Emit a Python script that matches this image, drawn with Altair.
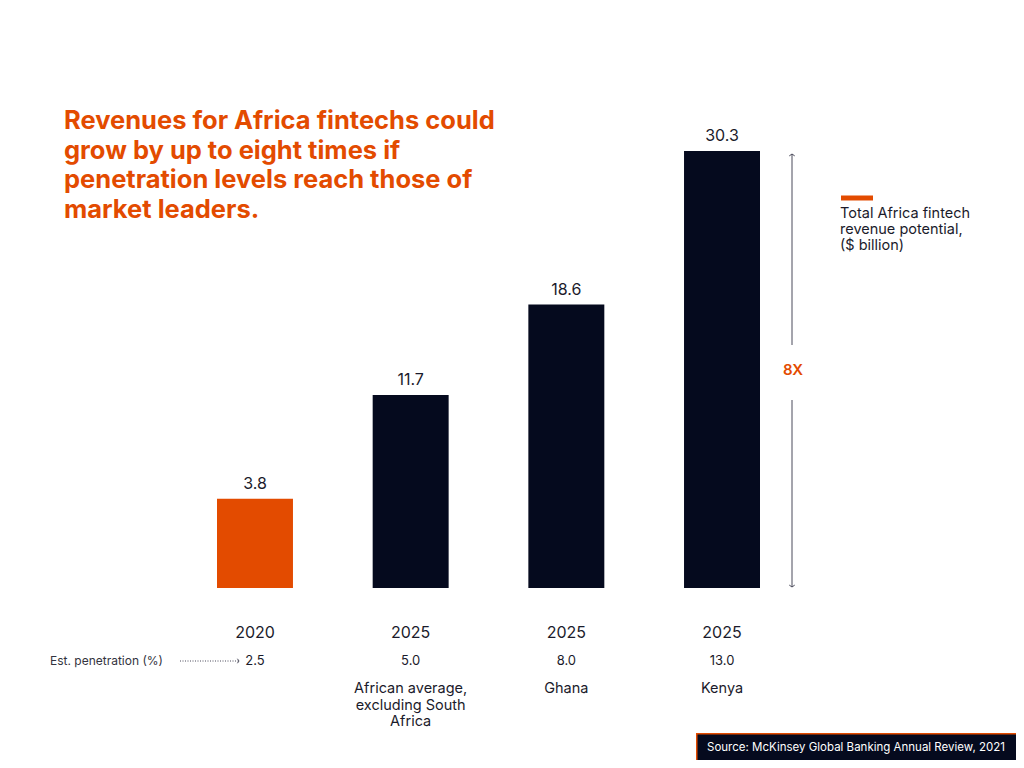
import altair as alt
import pandas as pd

# ---- data ----
years = ["2020", "2025", "2025", "2025"]
revenue = [3.8, 11.7, 18.6, 30.3]
penetration = [2.5, 5.0, 8.0, 13.0]
markets = ["", "African average,\nexcluding South\nAfrica", "Ghana", "Kenya"]

title_lines = [
    "Revenues for Africa fintechs could",
    "grow by up to eight times if",
    "penetration levels reach those of",
    "market leaders.",
]
legend_lines = ["Total Africa fintech", "revenue potential,", "($ billion)"]
multiple_label = "8X"
penetration_label = "Est. penetration (%)"
source_text = "Source: McKinsey Global Banking Annual Review, 2021"

ORANGE = "#E34B00"
NAVY = "#050A1E"
INK = "#1B1B2B"
GREY = "#4A4A5A"
FONT = "Inter"
Y_MIN = -3

df = pd.DataFrame({
    "slot": [f"{y}|{m}" for y, m in zip(years, markets)],
    "year": years,
    "revenue": revenue,
    "penetration": penetration,
    "market": markets,
})

one = pd.DataFrame({"k": [0]})

x = alt.X("slot:N", sort=None, axis=None,
          scale=alt.Scale(range=[209, 752], paddingInner=0.512, paddingOuter=0))
y = alt.Y("revenue:Q", axis=None,
          scale=alt.Scale(domain=[Y_MIN, 30.3], range=[580, 143], nice=False, zero=False))

base = alt.Chart(df).encode(x=x)

bars = base.mark_bar().encode(
    y=y, y2=alt.datum(Y_MIN),
    color=alt.Color("year:N", legend=None,
                    scale=alt.Scale(domain=["2020", "2025"], range=[ORANGE, NAVY])),
)
value_labels = base.mark_text(font=FONT, fontSize=16, color=INK, baseline="middle", dy=-15).encode(
    y=y, text=alt.Text("revenue:Q", format=".1f"))
year_labels = base.mark_text(font=FONT, fontSize=16, color=INK, baseline="middle").encode(
    y=alt.value(625), text="year:N")
pen_labels = base.mark_text(font=FONT, fontSize=13, color=INK, baseline="middle").encode(
    y=alt.value(653), text=alt.Text("penetration:Q", format=".1f"))
market_labels = base.mark_text(font=FONT, fontSize=14.5, color=INK, baseline="alphabetic",
                               lineBreak="\n", lineHeight=16.5).encode(
    y=alt.value(685), text="market:N")

title = alt.Chart(pd.DataFrame({"t": ["\n".join(title_lines)]})).mark_text(
    font=FONT, fontSize=25.5, fontWeight="bold", color=ORANGE, align="left",
    baseline="alphabetic", lineBreak="\n", lineHeight=29.7,
).encode(x=alt.value(56), y=alt.value(121), text="t:N")

legend_swatch = alt.Chart(one).mark_rule(color=ORANGE, strokeWidth=5).encode(
    x=alt.value(833), x2=alt.value(865), y=alt.value(190))
legend_text = alt.Chart(pd.DataFrame({"t": ["\n".join(legend_lines)]})).mark_text(
    font=FONT, fontSize=14.5, color=INK, align="left", baseline="alphabetic",
    lineBreak="\n", lineHeight=15.8,
).encode(x=alt.value(832), y=alt.value(210), text="t:N")

arrow_top = alt.Chart(one).mark_rule(color=GREY, strokeWidth=1).encode(
    x=alt.value(784), y=alt.value(146), y2=alt.value(337))
arrow_bot = alt.Chart(one).mark_rule(color=GREY, strokeWidth=1).encode(
    x=alt.value(784), y=alt.value(392), y2=alt.value(579))
head_top = alt.Chart(one).mark_point(shape="M -1 0.7 L 0 0 L 1 0.7", filled=False,
                                     size=30, color=GREY, strokeWidth=1, opacity=1).encode(
    x=alt.value(784), y=alt.value(146))
head_bot = alt.Chart(one).mark_point(shape="M -1 -0.7 L 0 0 L 1 -0.7", filled=False,
                                     size=30, color=GREY, strokeWidth=1, opacity=1).encode(
    x=alt.value(784), y=alt.value(579))
mult = alt.Chart(pd.DataFrame({"t": [multiple_label]})).mark_text(
    font=FONT, fontSize=15, fontWeight=600, color=ORANGE, baseline="middle",
).encode(x=alt.value(785), y=alt.value(362), text="t:N")

pen_title = alt.Chart(pd.DataFrame({"t": [penetration_label]})).mark_text(
    font=FONT, fontSize=12, color="#333340", align="left", baseline="middle",
).encode(x=alt.value(42), y=alt.value(653), text="t:N")
pen_arrow = alt.Chart(one).mark_rule(color=GREY, strokeWidth=1, strokeDash=[1, 1.5]).encode(
    x=alt.value(172), x2=alt.value(230), y=alt.value(653))
pen_head = alt.Chart(one).mark_point(shape="M -0.7 -1 L 0 0 L -0.7 1", filled=False,
                                     size=20, color=GREY, strokeWidth=1, opacity=1).encode(
    x=alt.value(231), y=alt.value(653))

src_border = alt.Chart(one).mark_rect(color=ORANGE).encode(
    x=alt.value(688), x2=alt.value(1008), y=alt.value(725), y2=alt.value(752))
src_box = alt.Chart(one).mark_rect(color=NAVY).encode(
    x=alt.value(689.5), x2=alt.value(1008), y=alt.value(726.5), y2=alt.value(752))
src_text = alt.Chart(pd.DataFrame({"t": [source_text]})).mark_text(
    font=FONT, fontSize=11.5, color="white", align="left", baseline="middle",
).encode(x=alt.value(699), y=alt.value(740), text="t:N")

chart = alt.layer(
    bars, value_labels, year_labels, pen_labels, market_labels,
    title, legend_swatch, legend_text,
    arrow_top, arrow_bot, head_top, head_bot, mult,
    pen_title, pen_arrow, pen_head,
    src_border, src_box, src_text,
).properties(
    width=1008, height=752, padding=0,
    autosize=alt.AutoSizeParams(type="none"),
    background="white",
).configure_view(stroke=None)

chart.save("out.html", embed_options={"renderer": "svg", "actions": False})
